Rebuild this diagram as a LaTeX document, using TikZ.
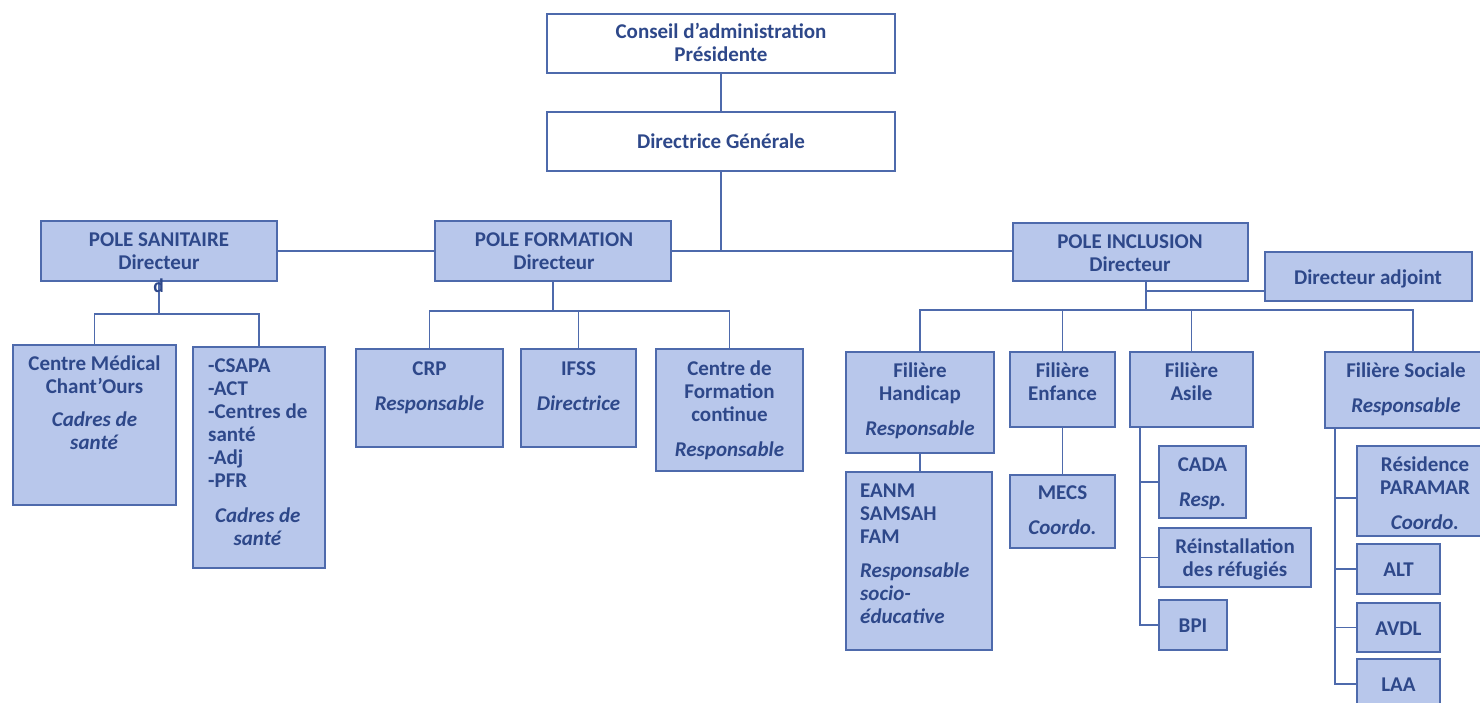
\documentclass[tikz,border=0pt]{standalone}
\usepackage{fontspec}
\setmainfont{Carlito}
\definecolor{ink}{RGB}{46,72,138}
\definecolor{rule}{RGB}{78,106,172}
\definecolor{boxfill}{RGB}{184,199,235}
% multi-line labels, baseline on the first line
\newcommand\txtc[1]{\begin{tabular}[t]{@{}c@{}}#1\end{tabular}}
\newcommand\txtl[1]{\begin{tabular}[t]{@{}l@{}}#1\end{tabular}}
\tikzset{
  unit/.style={draw=rule, line width=1.8pt, fill=boxfill, inner sep=0pt},
  board/.style={draw=rule, line width=1.8pt, fill=white, inner sep=0pt},
  txt/.style={anchor=base, inner sep=0pt, text=ink,
    font=\fontsize{21}{23}\selectfont\bfseries},
  link/.style={draw=rule, line width=1.8pt},
}
\begin{document}
\begin{tikzpicture}[x=1pt, y=-1pt]
\useasboundingbox (0,0) rectangle (1480,703);
\clip (0,0) rectangle (1480,703);

% ---- top of the organisation
\node[board, minimum width=348, minimum height=59] (ca) at (721,43.5) {};
\node[board, minimum width=348, minimum height=59] (dg) at (721,141.5) {};
\node[txt] (ca-t) at (721,39) {\txtc{Conseil d’administration\\Présidente}};
\node[txt] (dg-t) at (721,149) {Directrice Générale};

% ---- the three poles
\node[unit, minimum width=236, minimum height=60] (ps) at (159,251) {};
\node[unit, minimum width=236, minimum height=60] (pf) at (553,251) {};
\node[unit, minimum width=235, minimum height=58] (pi) at (1130.5,252) {};
\node[unit, minimum width=207, minimum height=49] (da) at (1368.5,276.5) {};
\node[txt] (ps-t) at (159,247) {\txtc{POLE SANITAIRE\\Directeur}};
\node[txt] (pf-t) at (554,247) {\txtc{POLE FORMATION\\Directeur}};
\node[txt] (pi-t) at (1130,249) {\txtc{POLE INCLUSION\\Directeur}};
\node[txt] (da-t) at (1368,285) {Directeur adjoint};

% ---- pole sanitaire
\node[unit, minimum width=163, minimum height=160] (cm) at (94.5,425) {};
\node[unit, minimum width=132, minimum height=221] (cs) at (259,457.5) {};
\node[txt] (cm-t) at (94.5,370) {\txtc{Centre Médical\\Chant’Ours\\[10pt]\textit{Cadres de}\\\textit{santé}}};
\node[txt, anchor=base west] (cs-t) at (208,372) {\txtl{-CSAPA\\-ACT\\-Centres de\\santé\\-Adj\\-PFR\\[12pt]
  \multicolumn{1}{c}{\textit{Cadres de}}\\\multicolumn{1}{c}{\textit{santé}}}};

% ---- pole formation
\node[unit, minimum width=147, minimum height=98] (crp) at (429.5,398) {};
\node[unit, minimum width=115, minimum height=98] (ifss) at (578.5,398) {};
\node[unit, minimum width=147, minimum height=122] (cfc) at (729.5,410) {};
\node[txt] (crp-t) at (429.5,375) {\txtc{CRP\\[12pt]\textit{Responsable}}};
\node[txt] (ifss-t) at (578.5,375) {\txtc{IFSS\\[12pt]\textit{Directrice}}};
\node[txt] (cfc-t) at (729.5,375) {\txtc{Centre de\\Formation\\continue\\[12pt]\textit{Responsable}}};

% ---- pole inclusion: filieres
\node[unit, minimum width=148, minimum height=101] (fh) at (920,402.5) {};
\node[unit, minimum width=105, minimum height=75] (fe) at (1062.5,389.5) {};
\node[unit, minimum width=123, minimum height=75] (fa) at (1191.5,389.5) {};
\node[unit, minimum width=175, minimum height=76] (fs) at (1412.5,390) {};
\node[txt] (fh-t) at (920,377) {\txtc{Filière\\Handicap\\[12pt]\textit{Responsable}}};
\node[txt] (fe-t) at (1062.5,377) {\txtc{Filière\\Enfance}};
\node[txt] (fa-t) at (1191.5,377) {\txtc{Filière\\Asile}};
\node[txt] (fs-t) at (1406,377) {\txtc{Filière Sociale\\[12pt]\textit{Responsable}}};

% ---- establishments
\node[unit, minimum width=146, minimum height=178] (eanm) at (919,561) {};
\node[unit, minimum width=105, minimum height=73] (mecs) at (1062.5,511.5) {};
\node[unit, minimum width=87, minimum height=72] (cada) at (1202.5,482) {};
\node[unit, minimum width=152, minimum height=59] (reinst) at (1235,557.5) {};
\node[unit, minimum width=68, minimum height=50] (bpi) at (1193,625) {};
\node[unit, minimum width=143, minimum height=90] (res) at (1428.5,491) {};
\node[unit, minimum width=83, minimum height=50] (alt) at (1398.5,569) {};
\node[unit, minimum width=83, minimum height=49] (avdl) at (1398.5,627.5) {};
\node[unit, minimum width=83, minimum height=50] (laa) at (1398.5,684) {};
\node[txt, anchor=base west] (eanm-t) at (860,497) {\txtl{EANM\\SAMSAH\\FAM\\[11pt]\textit{Responsable}\\\textit{socio-}\\\textit{éducative}}};
\node[txt] (mecs-t) at (1062.5,499) {\txtc{MECS\\[12pt]\textit{Coordo.}}};
\node[txt] (cada-t) at (1202.5,471) {\txtc{CADA\\[12pt]\textit{Resp.}}};
\node[txt] (reinst-t) at (1235,553) {\txtc{Réinstallation\\des réfugiés}};
\node[txt] (bpi-t) at (1193,632) {BPI};
\node[txt] (res-t) at (1425,471) {\txtc{Résidence\\PARAMAR\\[12pt]\textit{Coordo.}}};
\node[txt] (alt-t) at (1398.5,576) {ALT};
\node[txt] (avdl-t) at (1398.5,635) {AVDL};
\node[txt] (laa-t) at (1398.5,691) {LAA};

% ---- junction points
\coordinate (sbus) at (159,314);
\coordinate (fbus) at (553,311);
\coordinate (ibus) at (1146,310);
\coordinate (ijoin) at (1146,291);
\coordinate (aspine) at (1140,427);
\coordinate (sspine) at (1335,428);

% ---- connectors
\draw[link] (ca) -- (dg);
\draw[link] (dg.south) -- (dg.south |- pf.east);
\draw[link] (ps.east) -- (pf.west);
\draw[link] (pf.east) -- (pf.east -| pi.west);

\draw[link] (ps.south) -- (sbus);
\draw[link] (cm.north) |- (sbus) -| (cs.north);

\draw[link] (pf.south) -- (fbus);
\draw[link] (crp.north) |- (fbus) -| (cfc.north);
\draw[link] (ifss.north) -- (ifss.north |- fbus);

\draw[link] (ibus |- pi.south) -- (ibus);
\draw[link] (ijoin) -- (ijoin -| da.west);
\draw[link] (fh.north) |- (ibus) -| (fs.north -| 1413,0);
\draw[link] (fe.north) -- (fe.north |- ibus);
\draw[link] (fa.north) -- (fa.north |- ibus);

\draw[link] (fh.south) -- (fh.south |- eanm.north);
\draw[link] (fe.south) -- (fe.south |- mecs.north);

\draw[link] (aspine) |- (bpi.west);
\draw[link] (aspine |- cada.west) -- (cada.west);
\draw[link] (aspine |- reinst.west) -- (reinst.west);

\draw[link] (sspine) |- (laa.west);
\draw[link] ([yshift=-7pt]res.west -| sspine) -- ([yshift=-7pt]res.west);
\draw[link] (sspine |- alt.west) -- (alt.west);
\draw[link] (sspine |- avdl.west) -- (avdl.west);

% stray letter left under the sanitaire box
\node[anchor=base, inner sep=0pt, text=ink, scale=1.3,
  font=\fontsize{15}{16}\selectfont\bfseries] (ps-d) at (158.5,293) {d};
\end{tikzpicture}
\end{document}
